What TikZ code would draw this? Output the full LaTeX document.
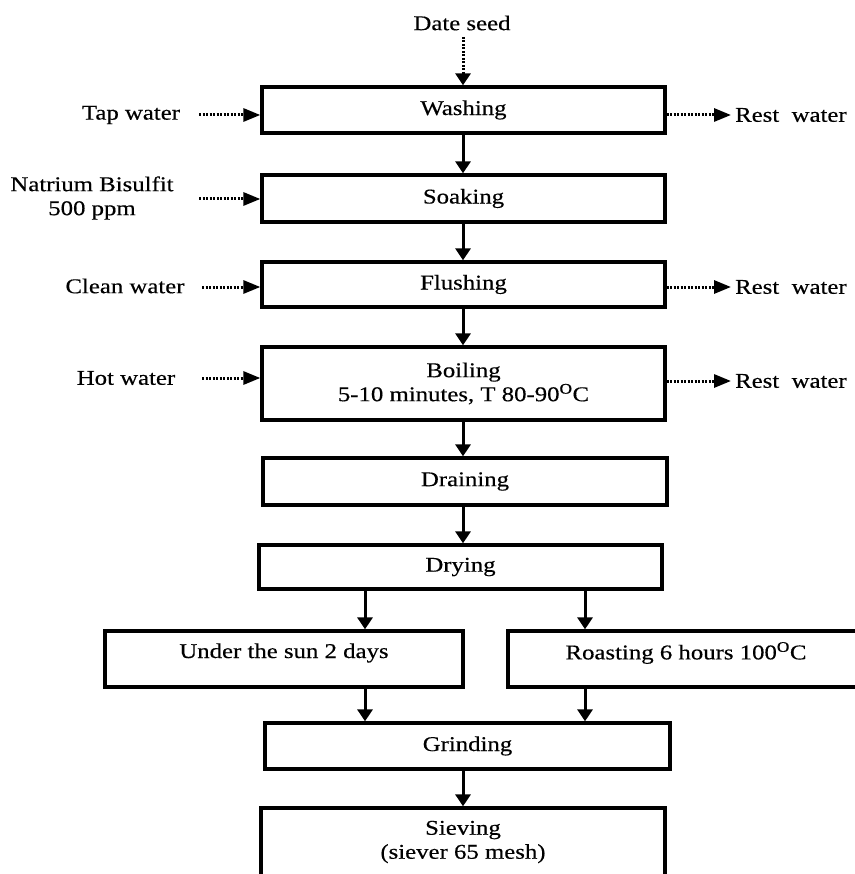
\documentclass[tikz,border=0pt]{standalone}
\usepackage{fontspec}
\setmainfont[FakeStretch=1.18,FakeBold=0.4]{Liberation Serif}
\usetikzlibrary{arrows.meta}
\begin{document}
\begin{tikzpicture}[x=1pt,y=-1pt,
  every node/.style={font=\fontsize{21}{24}\selectfont, inner sep=0pt},
  box/.style={draw, line width=3.3pt, rectangle, minimum height=#1},
  box/.default=46pt,
  txt/.style={align=center},
  flow/.style={line width=3pt, -{Triangle[width=15pt,length=12pt]}},
  dotv/.style={line width=3pt, dash pattern=on 2pt off 1.5pt, -{Triangle[width=15pt,length=12pt]}},
  doth/.style={line width=3pt, dash pattern=on 2pt off 1.5pt, -{Triangle[width=13pt,length=17pt]}}]
\useasboundingbox (0,0) rectangle (854,874);

% main boxes
\node[box=46pt, minimum width=403pt] (wash) at (463.5,110) {Washing};
\node[box=47pt, minimum width=403pt] (soak) at (463.5,198.5) {Soaking};
\node[box=45pt, minimum width=403pt] (flush) at (463.5,284.5) {Flushing};
\node[box=73pt, minimum width=403pt, txt] (boil) at (463.5,383.5) {Boiling\\5-10 minutes, T 80-90\textsuperscript{O}C};
\node[box=47pt, minimum width=404pt] (drain) at (465,481.5) {Draining};
\node[box=44pt, minimum width=403pt] (dry) at (460.5,567) {Drying};
\node[box=56pt, minimum width=358pt] (sun) at (284,659) {};
\node[txt] (suntxt) at (284,653) {Under the sun 2 days};
\node[box=56pt, minimum width=356pt] (roast) at (686,659) {};
\node[txt] (roasttxt) at (686,653) {Roasting 6 hours 100\textsuperscript{O}C};
\node[box=46pt, minimum width=405pt] (grind) at (467.5,746) {Grinding};
\node[box=90pt, minimum width=404pt] (sieve) at (463,853) {};
\node[txt] (sievetxt) at (463,842) {Sieving\\(siever 65 mesh)};

% input / output labels
\node (seed) at (462,23) {Date seed};
\node (tap) at (131,115) {Tap water};
\node[txt] (natr) at (92,198) {Natrium Bisulfit\\500 ppm};
\node (clean) at (125,286) {Clean water};
\node (hot) at (126,378) {Hot water};
\node[anchor=west] (rest1) at (735,115) {Rest\ \ water};
\node[anchor=west] (rest2) at (735,287) {Rest\ \ water};
\node[anchor=west] (rest3) at (735,381) {Rest\ \ water};

% side arrow start/end points
\coordinate (s0) at (463,37);
\coordinate (l1) at (199,115);
\coordinate (l2) at (199,199);
\coordinate (l3) at (202,287);
\coordinate (l4) at (202,378);
\coordinate (r1) at (731,115);
\coordinate (r2) at (731,287);
\coordinate (r3) at (731,381);

\draw[dotv] (s0) -- (s0 |- wash.north);
\draw[doth] (l1) -- (l1 -| wash.west);
\draw[doth] (l2) -- (l2 -| soak.west);
\draw[doth] (l3) -- (l3 -| flush.west);
\draw[doth] (l4) -- (l4 -| boil.west);
\draw[doth] (r1 -| wash.east) -- (r1);
\draw[doth] (r2 -| flush.east) -- (r2);
\draw[doth] (r3 -| boil.east) -- (r3);

% main flow
\coordinate (cx) at (463,0);
\draw[flow] (cx |- wash.south) -- (cx |- soak.north);
\draw[flow] (cx |- soak.south) -- (cx |- flush.north);
\draw[flow] (cx |- flush.south) -- (cx |- boil.north);
\draw[flow] (cx |- boil.south) -- (cx |- drain.north);
\draw[flow] (cx |- drain.south) -- (cx |- dry.north);
\coordinate (bl) at (365,0);
\coordinate (br) at (585,0);
\draw[flow] (bl |- dry.south) -- (bl |- sun.north);
\draw[flow] (br |- dry.south) -- (br |- roast.north);
\draw[flow] (bl |- sun.south) -- (bl |- grind.north);
\draw[flow] (br |- roast.south) -- (br |- grind.north);
\draw[flow] (cx |- grind.south) -- (cx |- sieve.north);
\end{tikzpicture}
\end{document}
